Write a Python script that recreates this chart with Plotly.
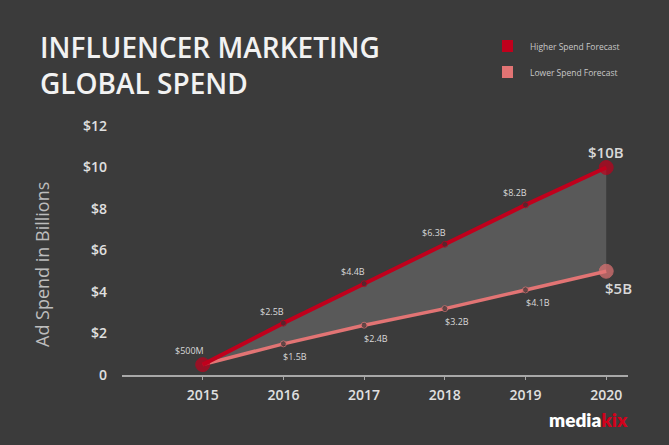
import plotly.graph_objects as go

# Data
years = [2015, 2016, 2017, 2018, 2019, 2020]
higher = [0.5, 2.5, 4.4, 6.3, 8.2, 10]
lower = [0.5, 1.5, 2.4, 3.2, 4.1, 5]
higher_labels = ['$500M', '$2.5B', '$4.4B', '$6.3B', '$8.2B', '$10B']
lower_labels = ['', '$1.5B', '$2.4B', '$3.2B', '$4.1B', '$5B']
y_ticks = [0, 2, 4, 6, 8, 10, 12]
y_ticktext = ['0', '$2', '$4', '$6', '$8', '$10', '$12']

BG = '#3b3b3b'
RED = '#c0001c'
PINK = '#e27474'
FONT = 'Open Sans'

# plot area in pixels, used to place the paper-level decorations
L, R, T, B = 122, 628, 126, 375


def px_x(x):
    return (x - L) / (R - L)


def px_y(y):
    return (B - y) / (B - T)


fig = go.Figure()

# lower line first so the upper one can fill down to it
fig.add_trace(go.Scatter(
    x=years, y=lower, mode='lines+markers',
    line=dict(color=PINK, width=3.5),
    marker=dict(color=['#333333'] * 5 + [PINK], size=[0, 6, 6, 6, 6, 14]),
    hoverinfo='skip', showlegend=False))

fig.add_trace(go.Scatter(
    x=years, y=higher, mode='lines+markers',
    line=dict(color=RED, width=4),
    fill='tonexty', fillcolor='rgba(115,115,115,0.55)',
    marker=dict(color=[RED] + ['#333333'] * 4 + [RED], size=[14, 6, 6, 6, 6, 14]),
    hoverinfo='skip', showlegend=False))

# value labels
for i, (x, y, t) in enumerate(zip(years, higher, higher_labels)):
    if i == 0:
        xs, ys, size = -13, 14, 9
    elif i == len(years) - 1:
        xs, ys, size = 0, 16, 15
    else:
        xs, ys, size = -11, 12, 9
    fig.add_annotation(x=x, y=y, text=t, showarrow=False, xshift=xs, yshift=ys,
                       font=dict(family=FONT, size=size, color='#d8d8d8',
                                 weight=600 if size > 10 else 400))

for i, (x, y, t) in enumerate(zip(years, lower, lower_labels)):
    if not t:
        continue
    if i == len(years) - 1:
        xs, ys, size = 12, -17, 15
    else:
        xs, ys, size = 12, -13, 9
    fig.add_annotation(x=x, y=y, text=t, showarrow=False, xshift=xs, yshift=ys,
                       font=dict(family=FONT, size=size, color='#d8d8d8',
                                 weight=600 if size > 10 else 400))

# title
fig.add_annotation(xref='paper', yref='paper', x=px_x(38), y=px_y(65),
                   xanchor='left', yanchor='middle', align='left', showarrow=False,
                   text='INFLUENCER MARKETING<br>GLOBAL SPEND',
                   font=dict(family=FONT, size=28, color='#f2f2f2', weight=600))

# legend
for yc, col, label in [(46, RED, 'Higher Spend Forecast'), (72, PINK, 'Lower Spend Forecast')]:
    fig.add_shape(type='rect', xref='paper', yref='paper',
                  x0=px_x(502), x1=px_x(513), y0=px_y(yc + 6), y1=px_y(yc - 6),
                  fillcolor=col, line=dict(width=0))
    fig.add_annotation(xref='paper', yref='paper', x=px_x(528), y=px_y(yc),
                       xanchor='left', yanchor='middle', text=label, showarrow=False,
                       font=dict(family=FONT, size=8.5, color='#c8c8c8'))

# y axis title
fig.add_annotation(xref='paper', yref='paper', x=px_x(42), y=px_y(265),
                   xanchor='center', yanchor='middle',
                   text='Ad Spend in Billions', textangle=-90, showarrow=False,
                   font=dict(family=FONT, size=18, color='#bdbdbd'))

# logo
fig.add_annotation(xref='paper', yref='paper', x=px_x(630), y=px_y(419),
                   xanchor='right', yanchor='middle', showarrow=False,
                   text="media<span style='color:#d0021b'>kix</span>",
                   font=dict(family='Lato', size=19, color='#ffffff', weight=800))

fig.update_xaxes(range=[2014.0, 2020.27], tickvals=years, showgrid=False, zeroline=False,
                 showline=True, linecolor='#a8a8a8', linewidth=1.5,
                 ticks='outside', ticklen=3, tickcolor='#a8a8a8', ticklabelstandoff=3,
                 tickfont=dict(family=FONT, size=14, color='#e0e0e0', weight=600))
fig.update_yaxes(range=[0, 12], tickvals=y_ticks, ticktext=y_ticktext, showgrid=False,
                 zeroline=False, showline=False, ticklabelstandoff=14,
                 tickfont=dict(family=FONT, size=14, color='#e0e0e0', weight=600))

fig.update_layout(width=669, height=445, paper_bgcolor=BG, plot_bgcolor=BG,
                  margin=dict(l=L, r=669 - R, t=T, b=445 - B), showlegend=False)

fig.write_html('out.html', config={'displayModeBar': False},
               post_script="document.body.style.margin='0';")
